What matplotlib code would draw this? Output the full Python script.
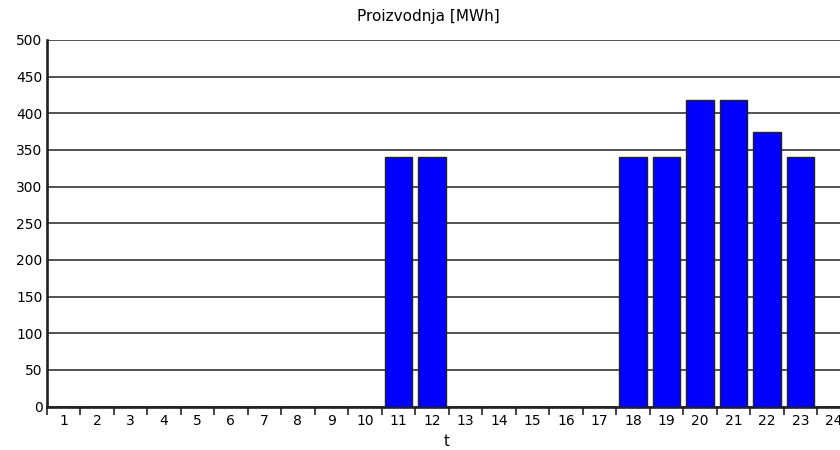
import matplotlib
matplotlib.use("Agg")
import matplotlib.pyplot as plt
import numpy as np

hours = list(range(1, 25))
production = [0, 0, 0, 0, 0, 0, 0, 0, 0, 0, 341, 341, 0, 0, 0, 0, 0, 341, 341, 418, 418, 375, 341, 0]
y_ticks = [0, 50, 100, 150, 200, 250, 300, 350, 400, 450, 500]
title = "Proizvodnja [MWh]"
xlabel = "t"

plt.rcParams['font.family'] = ['DejaVu Sans']
fig = plt.figure(figsize=(8.4, 4.5), dpi=100)
ax = fig.add_axes([0.0556, 0.0963, 0.957, 0.815])

ax.set_axisbelow(True)
ax.yaxis.grid(True, color='#333333', linewidth=1.2)
ax.bar(hours, production, width=0.82, color='#0000ff', edgecolor='#222222', linewidth=1.0, zorder=3)

ax.set_xlim(0.5, 24.5)
ax.set_ylim(0, 500)
ax.set_yticks(y_ticks)
ax.set_yticklabels([str(v) for v in y_ticks], fontsize=10)
ax.tick_params(axis='y', length=0, pad=3)

ax.set_xticks(hours)
ax.set_xticklabels([str(h) for h in hours], fontsize=10)
ax.tick_params(axis='x', which='major', length=0, pad=5)
ax.set_xticks(np.arange(0.5, 25, 1), minor=True)
ax.tick_params(axis='x', which='minor', length=6, width=1.2, color='#222222', direction='out')

for s in ['top', 'right']:
    ax.spines[s].set_visible(False)
for s in ['left', 'bottom']:
    ax.spines[s].set_linewidth(1.9)
    ax.spines[s].set_color('#222222')

fig.text(428/840, 1 - 17/450, title, ha='center', va='center', fontsize=11)
fig.text(447/840, 1 - 442/450, xlabel, ha='center', va='center', fontsize=10.5)

fig.savefig("out.png", dpi=100)
